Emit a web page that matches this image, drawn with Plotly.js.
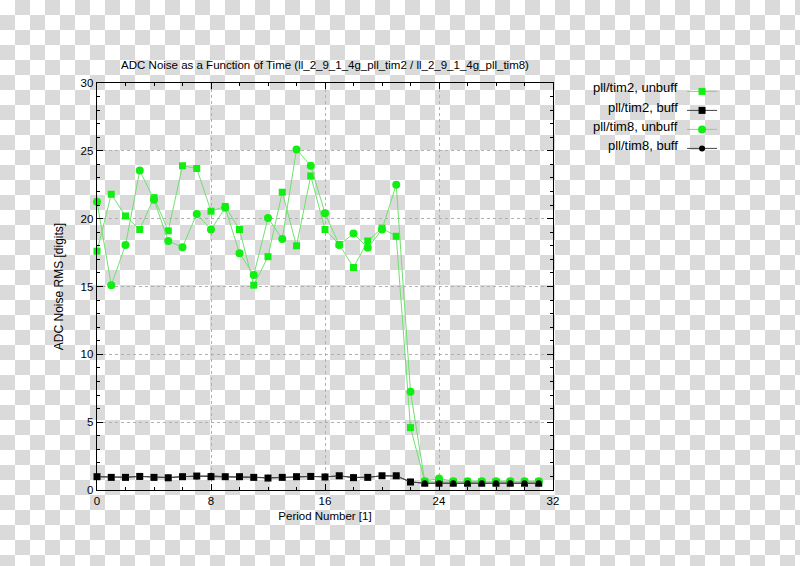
<!DOCTYPE html>
<html>
<head>
<meta charset="utf-8">
<script src="https://cdn.plot.ly/plotly-3.0.1.min.js"></script>
<style>
  html, body { margin: 0; padding: 0; }
  body {
    width: 800px; height: 566px;
    background-color: #ffffff;
    background-image:
      linear-gradient(45deg, #dadada 25%, transparent 25%, transparent 75%, #dadada 75%),
      linear-gradient(45deg, #dadada 25%, transparent 25%, transparent 75%, #dadada 75%);
    background-size: 30px 30px;
    background-position: 0 0, 15px 15px;
  }
  #chart { width: 800px; height: 566px; }
</style>
</head>
<body>
<div id="chart"></div>
<script>
// period numbers 0..31
const periods = [0,1,2,3,4,5,6,7,8,9,10,11,12,13,14,15,16,17,18,19,20,21,22,23,24,25,26,27,28,29,30,31];

const tim2Unbuff = [17.6,21.8,20.2,19.2,21.55,19.1,23.9,23.7,20.55,20.9,19.2,15.1,17.2,21.95,18.0,23.15,
                    19.2,18.1,16.4,18.35,19.3,18.7,4.6,0.6,0.6,0.6,0.6,0.6,0.6,0.6,0.6,0.6];
const tim2Buff   = [0.98,0.93,0.93,1.0,0.93,0.9,0.98,1.03,0.98,0.98,0.98,0.93,0.88,0.93,0.98,1.0,
                    0.96,1.05,0.91,0.93,1.05,1.05,0.59,0.5,0.5,0.5,0.5,0.5,0.5,0.5,0.5,0.5];
const tim8Unbuff = [21.25,15.1,18.05,23.55,21.4,18.35,17.9,20.35,19.2,20.8,17.45,15.85,20.05,18.5,25.1,23.9,
                    20.4,18.05,18.9,17.85,19.2,22.5,7.25,0.65,0.85,0.65,0.65,0.65,0.65,0.65,0.65,0.65];
const tim8Buff   = [0.98,0.95,0.95,1.0,0.95,0.93,0.98,1.0,1.05,0.98,0.98,0.95,0.9,0.95,0.98,1.0,
                    0.98,1.03,0.93,0.95,1.03,1.03,0.6,0.5,0.5,0.5,0.5,0.5,0.5,0.5,0.5,0.5];

const seriesNames = ['pll/tim2, unbuff', 'pll/tim2, buff', 'pll/tim8, unbuff', 'pll/tim8, buff'];

const FONT = 'Liberation Sans, Arial, sans-serif';
const GREEN = '#11ee11';
const GREEN_LINE = '#70e070';

function trace(y, name, symbol, mcolor, lcolor, size) {
  return {
    type: 'scatter', mode: 'lines+markers',
    x: periods, y, name,
    cliponaxis: false,
    line: { color: lcolor, width: 1 },
    marker: { symbol, color: mcolor, size },
  };
}

const traces = [
  trace(tim2Unbuff, seriesNames[0], 'square', GREEN, GREEN_LINE, 7),
  trace(tim2Buff,   seriesNames[1], 'square', '#000', '#444', 7),
  trace(tim8Unbuff, seriesNames[2], 'circle', GREEN, GREEN_LINE, 8),
  trace(tim8Buff,   seriesNames[3], 'circle', '#000', '#444', 6),
];

// legend labels drawn to the left of the symbols, like the original
const legendRowsY = [0.988, 0.941, 0.894, 0.847];
const legendLabels = seriesNames.map((t, i) => ({
  text: t, xref: 'paper', yref: 'paper', x: 1.279, y: legendRowsY[i],
  xanchor: 'right', yanchor: 'middle', showarrow: false,
  font: { family: FONT, size: 13, color: '#000' },
}));

const axisCommon = {
  showline: true, linecolor: '#000', linewidth: 1.3, mirror: 'allticks',
  ticks: 'inside', ticklen: 6, tickcolor: '#000', tickwidth: 1,
  showgrid: true, gridcolor: '#b0b0b0', griddash: 'dot', gridwidth: 1,
  zeroline: false,
  tickfont: { family: FONT, size: 11.5, color: '#000' },
};

Plotly.newPlot('chart', traces, {
  width: 800, height: 566,
  paper_bgcolor: 'rgba(0,0,0,0)',
  plot_bgcolor: 'rgba(0,0,0,0)',
  margin: { l: 97, r: 247, t: 83, b: 76, autoexpand: false },
  font: { family: FONT, size: 11, color: '#000' },
  title: {
    text: 'ADC Noise as a Function of Time (ll_2_9_1_4g_pll_tim2 / ll_2_9_1_4g_pll_tim8)',
    font: { size: 11.5, color: '#000' },
    x: 0.4063, xanchor: 'center', y: 0.885, yanchor: 'middle',
  },
  xaxis: Object.assign({}, axisCommon, {
    range: [0, 32], tickvals: [0, 8, 16, 24, 32],
    minor: { dtick: 2, ticks: 'inside', ticklen: 3, tickcolor: '#000', showgrid: false },
    title: { text: 'Period Number [1]', standoff: 6, font: { size: 11.5, color: '#000' } },
  }),
  yaxis: Object.assign({}, axisCommon, {
    range: [0, 30], dtick: 5,
    minor: { dtick: 1, ticks: 'inside', ticklen: 3, tickcolor: '#000', showgrid: false },
    title: { text: 'ADC Noise RMS [digits]', standoff: 14, font: { size: 12, color: '#000' } },
  }),
  showlegend: true,
  legend: {
    x: 1.283, xanchor: 'left', y: 1.015, yanchor: 'top',
    bgcolor: 'rgba(0,0,0,0)', borderwidth: 0,
    font: { size: 11, color: 'rgba(0,0,0,0)' },
  },
  annotations: legendLabels,
}, { displayModeBar: false, staticPlot: true });
</script>
</body>
</html>
